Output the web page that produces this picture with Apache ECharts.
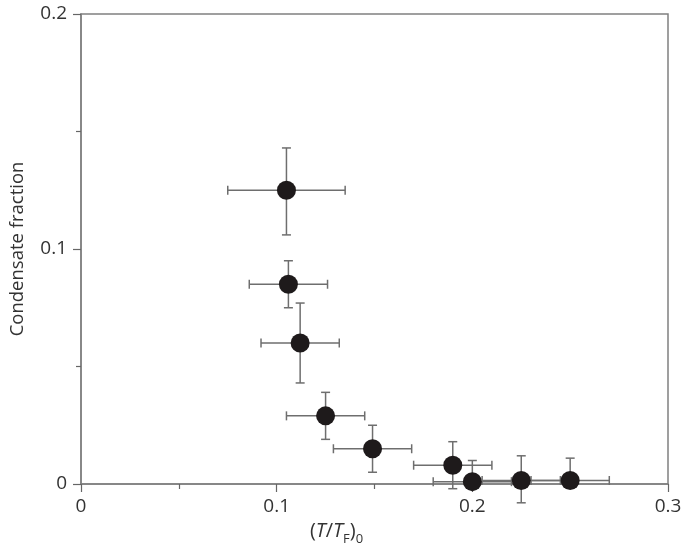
<!DOCTYPE html>
<html>
<head>
<meta charset="utf-8">
<script src="https://cdn.jsdelivr.net/npm/echarts@6/dist/echarts.min.js"></script>
<style>html,body{margin:0;padding:0;background:#fff;}#c{width:685px;height:554px;}</style>
</head>
<body>
<div id="c"></div>
<script>
// Data
const xValues = [0.105, 0.106, 0.112, 0.125, 0.149, 0.190, 0.200, 0.225, 0.250];
const yValues = [0.125, 0.085, 0.060, 0.029, 0.015, 0.008, 0.001, 0.0015, 0.0015];
const xLow    = [0.075, 0.086, 0.092, 0.105, 0.129, 0.170, 0.180, 0.205, 0.230];
const xHigh   = [0.135, 0.126, 0.132, 0.145, 0.169, 0.210, 0.220, 0.245, 0.270];
const yLow    = [0.106, 0.075, 0.043, 0.019, 0.005, -0.002, 0.000, -0.008, 0.000];
const yHigh   = [0.143, 0.095, 0.077, 0.039, 0.025, 0.018, 0.010, 0.012, 0.011];
const xTicks = [0, 0.1, 0.2, 0.3];
const yTicks = [0, 0.1, 0.2];

const FONT = '"Open Sans", "Noto Sans", sans-serif';
const errData = xValues.map((x, i) => [x, yValues[i], xLow[i], xHigh[i], yLow[i], yHigh[i]]);
const ptData = xValues.map((x, i) => [x, yValues[i]]);

const chart = echarts.init(document.getElementById('c'), null, {renderer: 'canvas'});
const axisCommon = {
  axisLine: {show: true, onZero: false, lineStyle: {color: '#808080', width: 1.5}},
  axisTick: {show: true, inside: false, length: 8, lineStyle: {color: '#666', width: 1.2}},
  minorTick: {show: true, splitNumber: 2, length: 5, lineStyle: {color: '#666', width: 1.2}},
  splitLine: {show: false},
  axisLabel: {color: '#333', fontFamily: FONT, fontSize: 19}
};
chart.setOption({
  animation: false,
  backgroundColor: '#fff',
  grid: {left: 77, right: 17, top: 14, bottom: 70, show: true, borderColor: '#808080', borderWidth: 1.5},
  xAxis: Object.assign({}, axisCommon, {
    type: 'value', min: 0, max: 0.3, interval: 0.1,
    axisLabel: Object.assign({}, axisCommon.axisLabel, {margin: 13, formatter: v => String(+v.toFixed(1)), customValues: xTicks}),
    name: '{p|(}{i|T}{p|/}{i|T}{s|F}{p|)}{s|0}',
    nameLocation: 'middle', nameGap: 33,
    nameTextStyle: {
      padding: [0, 76, 0, 0],
      rich: {
        p: {fontFamily: FONT, fontSize: 20, color: '#333'},
        i: {fontFamily: FONT, fontSize: 20, color: '#333', fontStyle: 'italic'},
        s: {fontFamily: FONT, fontSize: 13, color: '#333', verticalAlign: 'bottom', padding: [16, 0, 0, 0]}
      }
    }
  }),
  yAxis: Object.assign({}, axisCommon, {
    type: 'value', min: 0, max: 0.2, interval: 0.1,
    axisLabel: Object.assign({}, axisCommon.axisLabel, {margin: 14, formatter: v => String(+v.toFixed(1)), customValues: yTicks}),
    name: 'Condensate fraction', nameLocation: 'middle', nameGap: 54, nameRotate: 90,
    nameTextStyle: {fontFamily: FONT, fontSize: 18.5, color: '#333'}
  }),
  series: [
    {
      type: 'custom', clip: false, z: 2,
      data: errData,
      renderItem: function (params, api) {
        const c = api.coord([api.value(0), api.value(1)]);
        const l = api.coord([api.value(2), api.value(1)]);
        const r = api.coord([api.value(3), api.value(1)]);
        const b = api.coord([api.value(0), api.value(4)]);
        const t = api.coord([api.value(0), api.value(5)]);
        const st = {stroke: '#6e6e6e', lineWidth: 1.5};
        const cap = 4.5;
        return {
          type: 'group',
          children: [
            {type: 'line', shape: {x1: l[0], y1: l[1], x2: r[0], y2: r[1]}, style: st},
            {type: 'line', shape: {x1: l[0], y1: l[1] - cap, x2: l[0], y2: l[1] + cap}, style: st},
            {type: 'line', shape: {x1: r[0], y1: r[1] - cap, x2: r[0], y2: r[1] + cap}, style: st},
            {type: 'line', shape: {x1: b[0], y1: b[1], x2: t[0], y2: t[1]}, style: st},
            {type: 'line', shape: {x1: t[0] - cap, y1: t[1], x2: t[0] + cap, y2: t[1]}, style: st},
            {type: 'line', shape: {x1: b[0] - cap, y1: b[1], x2: b[0] + cap, y2: b[1]}, style: st}
          ]
        };
      }
    },
    {
      type: 'scatter', z: 3, clip: false,
      data: ptData,
      symbol: 'circle', symbolSize: 19,
      itemStyle: {color: '#1e1a1b', opacity: 1}
    }
  ]
});
</script>
</body>
</html>
